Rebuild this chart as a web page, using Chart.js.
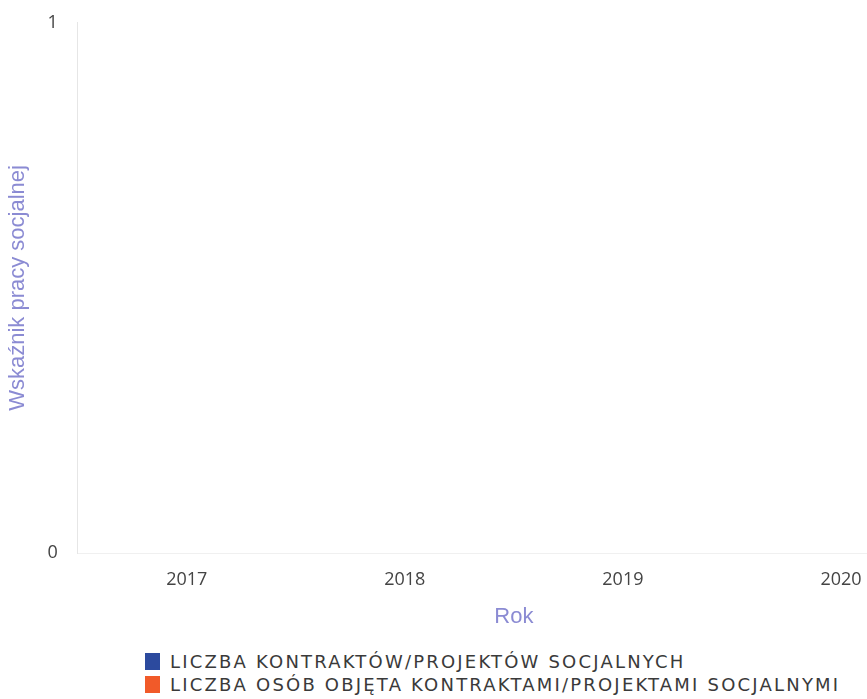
<!DOCTYPE html>
<html>
<head>
<meta charset="utf-8">
<script src="https://cdn.jsdelivr.net/npm/chart.js@4.4.1/dist/chart.umd.min.js"></script>
<style>
  body { margin: 0; background: #fff; overflow: hidden; }
  #wrap { position: relative; width: 980px; height: 699px; }
  #legend { position: absolute; left: 145px; top: 650px; font-family: "DejaVu Sans", sans-serif; font-size: 18px; letter-spacing: 2.2px; color: #3a3a3a; }
  #legend div { display: flex; align-items: center; height: 23px; white-space: nowrap; }
  #legend span.box { display: inline-block; width: 15px; height: 17px; margin-right: 10px; }
</style>
</head>
<body>
<div id="wrap">
  <canvas id="chart" width="980" height="634"></canvas>
  <div id="legend"></div>
</div>
<script>
const years = ["2017", "2018", "2019", "2020"];
const contracts = [0, 0, 0, 0];
const persons = [0, 0, 0, 0];
const seriesNames = [
  "LICZBA KONTRAKTÓW/PROJEKTÓW SOCJALNYCH",
  "LICZBA OSÓB OBJĘTA KONTRAKTAMI/PROJEKTAMI SOCJALNYMI"
];
const seriesColors = ["#2c4a9e", "#f15a29"];

const chart = new Chart(document.getElementById("chart"), {
  type: "bar",
  data: {
    labels: years,
    datasets: [
      { label: seriesNames[0], data: contracts, backgroundColor: seriesColors[0], borderWidth: 0 },
      { label: seriesNames[1], data: persons, backgroundColor: seriesColors[1], borderWidth: 0 }
    ]
  },
  options: {
    responsive: false,
    animation: false,
    layout: { padding: { top: 9, left: 1, right: 30, bottom: 0 } },
    plugins: { legend: { display: false }, tooltip: { enabled: false } },
    scales: {
      x: {
        grid: { display: false },
        border: { display: true, color: "#f0f0f0" },
        ticks: { color: "#444", font: { family: "Open Sans", size: 18 }, padding: 8 },
        title: { display: true, text: "Rok", color: "#8b8bd3", font: { family: "Liberation Sans", size: 22 }, padding: { top: 5, bottom: 4 } }
      },
      y: {
        min: 0,
        max: 1,
        grid: { display: false },
        border: { display: true, color: "#e6e6e6" },
        ticks: { stepSize: 1, color: "#444", font: { family: "Open Sans", size: 18 }, padding: 12 },
        title: { display: true, text: "Wskaźnik pracy socjalnej", color: "#8b8bd3", font: { family: "Liberation Sans", size: 22 } }
      }
    }
  }
});

const legend = document.getElementById("legend");
seriesNames.forEach((name, i) => {
  const row = document.createElement("div");
  row.innerHTML = '<span class="box" style="background:' + seriesColors[i] + '"></span>' + name;
  legend.appendChild(row);
});
</script>
</body>
</html>
